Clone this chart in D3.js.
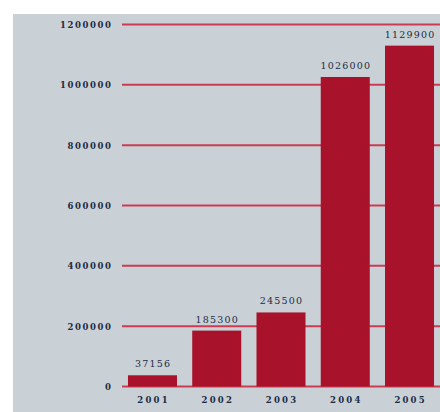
<!DOCTYPE html>
<html>
<head>
<meta charset="utf-8">
<script src="https://cdn.jsdelivr.net/npm/d3@7"></script>
<style>
  body { margin: 0; background: #fff; }
  svg { display: block; }
  .tick text, .lbl { font-family: Georgia, "DejaVu Serif", "Liberation Serif", serif; fill: #1c2b45; }
</style>
</head>
<body>
<div id="chart"></div>
<script>
// data
var years = ["2001", "2002", "2003", "2004", "2005"];
var values = [37156, 185300, 245500, 1026000, 1129900];
var yTicks = [0, 200000, 400000, 600000, 800000, 1000000, 1200000];

var width = 440, height = 412;

var svg = d3.select("#chart").append("svg")
    .attr("width", width)
    .attr("height", height);

// grey panel
svg.append("rect")
    .attr("x", 13).attr("y", 14)
    .attr("width", width - 13).attr("height", height - 14)
    .attr("fill", "#c9d1d7");

var y = d3.scaleLinear()
    .domain([0, 1200000])
    .range([386.5, 24.5]);

var x = d3.scaleBand()
    .domain(years)
    .range([122, 440])
    .paddingInner(0.237)
    .paddingOuter(0.093);

// gridlines
svg.selectAll("line.grid")
    .data(yTicks)
    .enter().append("line")
    .attr("class", "grid")
    .attr("x1", 122).attr("x2", width)
    .attr("y1", function(d) { return y(d); })
    .attr("y2", function(d) { return y(d); })
    .attr("stroke", "#cb3c53")
    .attr("stroke-width", 2);

// y axis labels (shifted a bit to make up for trailing letter-spacing)
var yAxis = d3.axisLeft(y).tickValues(yTicks).tickSize(0).tickPadding(0).tickFormat(d3.format("d"));
var gy = svg.append("g").attr("transform", "translate(112.5,0)").call(yAxis);
gy.select(".domain").remove();
gy.selectAll("text").attr("font-size", 8.5).attr("font-weight", "bold")
    .attr("letter-spacing", 1.6).attr("dy", "0.35em");

// bars
svg.selectAll("rect.bar")
    .data(values)
    .enter().append("rect")
    .attr("class", "bar")
    .attr("x", function(d, i) { return x(years[i]); })
    .attr("width", x.bandwidth())
    .attr("y", function(d) { return y(d); })
    .attr("height", function(d) { return y(0) - y(d); })
    .attr("fill", "#a8122b");

// value labels
svg.selectAll("text.lbl")
    .data(values)
    .enter().append("text")
    .attr("class", "lbl")
    .attr("x", function(d, i) { return x(years[i]) + x.bandwidth() / 2 + 0.6; })
    .attr("y", function(d) { return y(d) - 8; })
    .attr("text-anchor", "middle")
    .attr("font-size", 9.5)
    .attr("letter-spacing", 1.2)
    .text(function(d) { return d; });

// x axis labels
var xAxis = d3.axisBottom(x).tickSize(0).tickPadding(0);
var gx = svg.append("g").attr("transform", "translate(1.1,397)").call(xAxis);
gx.select(".domain").remove();
gx.selectAll("text").attr("font-size", 8.5).attr("font-weight", "bold")
    .attr("letter-spacing", 2.2).attr("dy", "0.71em");
</script>
</body>
</html>
